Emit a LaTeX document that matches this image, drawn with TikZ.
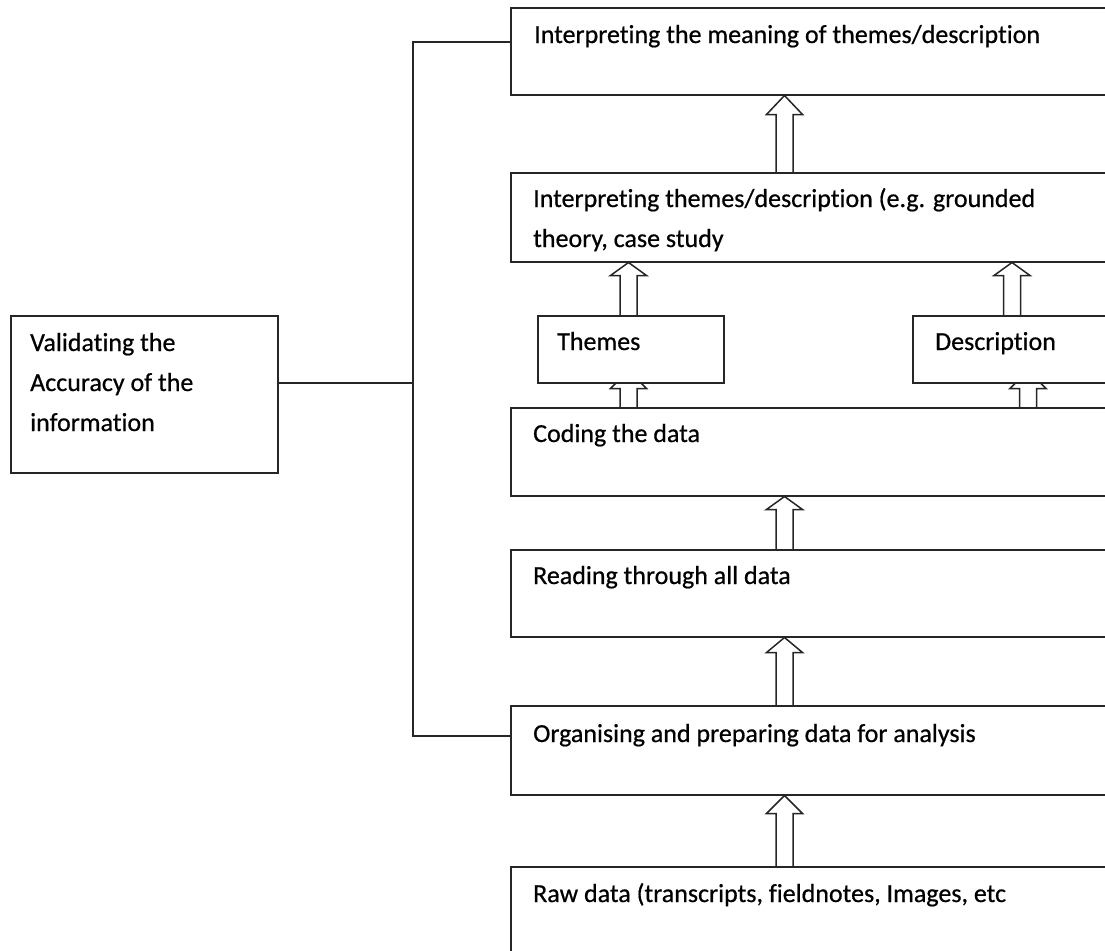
\documentclass[tikz,border=0pt]{standalone}
\usepackage{fontspec}
\setmainfont{Carlito}[Ligatures=NoCommon, RawFeature={embolden=0.6}]
\usetikzlibrary{calc,backgrounds}

% Hollow block arrow pointing up from one box to the one above it.
% #1 lower node, #2 upper node, #3 x offset of the shaft from #1's left edge,
% #4 depth of the head, #5 how far the tip reaches into the upper box
\newcommand\hollowarrow[5]{%
  \path ([xshift=#3bp]#1.north west) coordinate (ha-base);
  \path (ha-base |- #2.south) coordinate (ha-tip0);
  \path ($(ha-tip0)+(0,-#5)$) coordinate (ha-tip);
  \draw[hollow] ($(ha-base)+(-8.5,0)$) -- ($(ha-tip)+(-8.5,#4)$)
    -- ($(ha-tip)+(-18,#4)$) -- (ha-tip) -- ($(ha-tip)+(18,#4)$)
    -- ($(ha-tip)+(8.5,#4)$) -- ($(ha-base)+(8.5,0)$);
}

\begin{document}
\begin{tikzpicture}[x=1bp,y=-1bp,
  box/.style={draw=black!85, line width=1.5bp, fill=white, rectangle,
    inner sep=0pt, anchor=north west},
  txt/.style={anchor=base west, inner sep=0pt,
    font=\fontsize{26bp}{40bp}\selectfont, text=black},
  hollow/.style={draw=black!85, line width=1.5bp, fill=white, line join=miter},
  link/.style={draw=black!85, line width=1.5bp}]

\path[use as bounding box, clip] (0,0) rectangle (1105,951);

% process steps (they run on past the right edge)
\node[box, minimum width=700bp, minimum height=87bp] (meaning)    at (510,7)   {};
\node[box, minimum width=700bp, minimum height=89bp] (interp)     at (510,172) {};
\node[box, minimum width=186bp, minimum height=67bp] (themes)     at (537,315) {};
\node[box, minimum width=300bp, minimum height=67bp] (descr)      at (912,315) {};
\node[box, minimum width=700bp, minimum height=88bp] (coding)     at (510,407) {};
\node[box, minimum width=700bp, minimum height=87bp] (reading)    at (510,549) {};
\node[box, minimum width=700bp, minimum height=89bp] (organising) at (510,705) {};
\node[box, minimum width=700bp, minimum height=200bp] (raw)       at (510,866) {};
\node[box, minimum width=267bp, minimum height=157bp] (validate)  at (10,315)  {};

% labels
\node[txt] at ($(meaning.north west)+(24,36)$) {Interpreting the meaning of themes/description};
\node[txt] at ($(interp.north west)+(23,35)$) {Interpreting themes/description (e.g. grounded};
\node[txt] at ($(interp.north west)+(23,75)$) {theory, case study};
\node[txt] at ($(themes.north west)+(20,35)$) {Themes};
\node[txt] at ($(descr.north west)+(23,35)$) {Description};
\node[txt] at ($(coding.north west)+(23,35)$) {Coding the data};
\node[txt] at ($(reading.north west)+(23,35)$) {Reading through all data};
\node[txt] at ($(organising.north west)+(23,37)$) {Organising and preparing data for analysis};
\node[txt] at ($(raw.north west)+(23,36)$) {Raw data (transcripts, fieldnotes, Images, etc};
\node[txt] at ($(validate.north west)+(20,36)$) {Validating the};
\node[txt] at ($(validate.north west)+(20,76)$) {Accuracy of the};
\node[txt] at ($(validate.north west)+(20,116)$) {information};

% validation bracket
\coordinate (spine) at (413,400);
\coordinate (vj) at ([yshift=11.5bp]validate.east);
\coordinate (mj) at ([yshift=9.5bp]meaning.west);
\coordinate (oj) at ([yshift=14.5bp]organising.west);
\draw[link] (mj) -- (mj -| spine) -- (oj -| spine) -- (oj);
\draw[link] (vj) -- (vj -| spine);

% upward flow
\begin{pgfonlayer}{background}
  \hollowarrow{interp}{meaning}{274.5}{19}{0}
  \hollowarrow{themes}{interp}{91.5}{13}{0}
  \hollowarrow{descr}{interp}{100}{13}{0}
  \hollowarrow{coding}{themes}{118.5}{18}{13}
  \hollowarrow{coding}{descr}{518}{18}{13}
  \hollowarrow{reading}{coding}{274.5}{13}{0}
  \hollowarrow{organising}{reading}{274.5}{15}{0}
  \hollowarrow{raw}{organising}{274.5}{18}{0}
\end{pgfonlayer}
\end{tikzpicture}
\end{document}
